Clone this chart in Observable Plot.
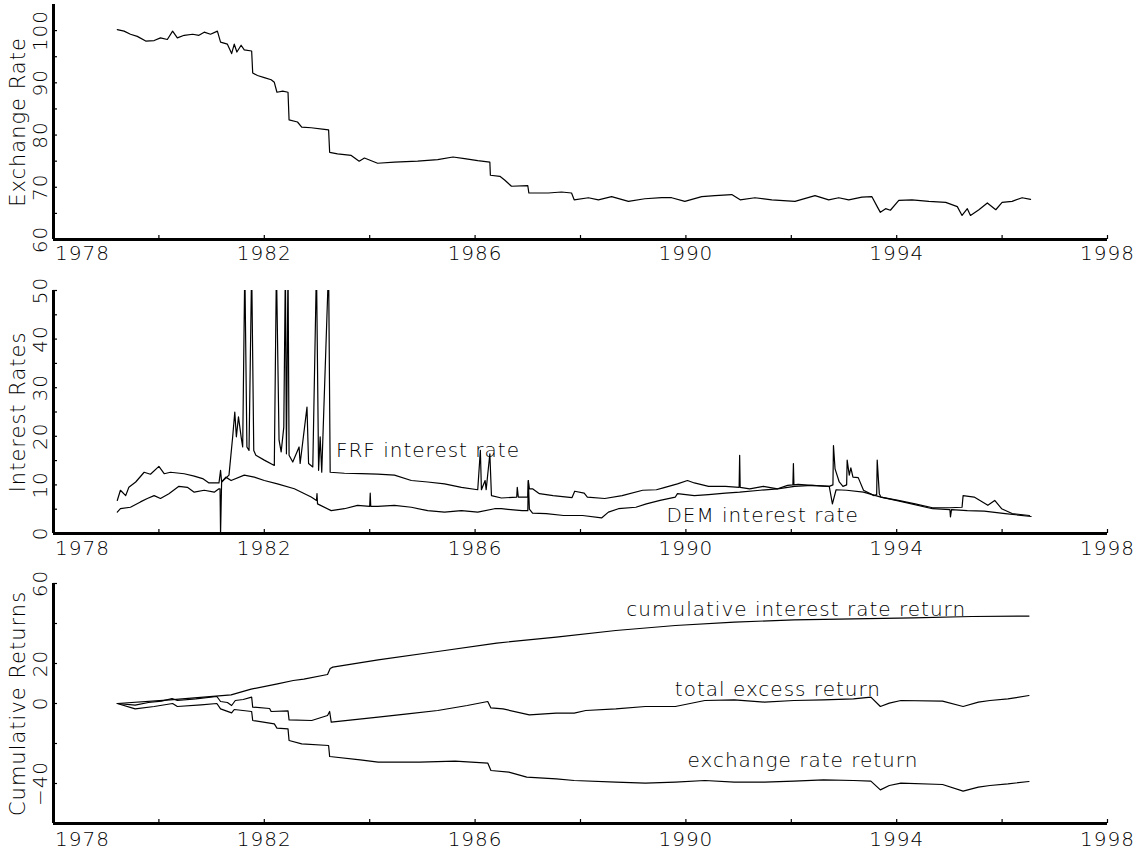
<!DOCTYPE html>
<html><head><meta charset="utf-8">
<script src="https://cdn.jsdelivr.net/npm/d3@7"></script>
<script src="https://cdn.jsdelivr.net/npm/@observablehq/plot@0.6"></script>
<style>
body{margin:0;background:#fff;}
#chart svg{display:block;overflow:visible;background:transparent;}
#chart text{font-family:"DejaVu Sans",sans-serif;font-weight:200;letter-spacing:1px;}
</style></head><body><div id="chart"></div>
<script>
// ---------- x axis ----------
const xTicks = [1978,1980,1982,1984,1986,1988,1990,1992,1994,1996,1998];
const xLabels = [1978,1982,1986,1990,1994,1998];

// ---------- panel 1: exchange rate ----------
const fxYear = [1979.21,1979.34,1979.46,1979.59,1979.75,1979.91,1980.03,1980.16,1980.26,1980.35,
1980.48,1980.64,1980.76,1980.86,1980.98,1981.11,1981.17,1981.30,1981.38,1981.43,
1981.48,1981.56,1981.62,1981.76,1981.78,1981.87,1982.00,1982.13,1982.19,1982.24,
1982.35,1982.45,1982.47,1982.63,1982.71,1982.89,1983.14,1983.22,1983.24,1983.39,
1983.65,1983.80,1983.90,1984.15,1984.47,1984.91,1985.29,1985.58,1985.80,1986.05,
1986.28,1986.29,1986.47,1986.56,1986.69,1987.00,1987.02,1987.39,1987.64,1987.83,
1987.88,1988.15,1988.34,1988.59,1988.91,1989.22,1989.54,1989.73,1989.98,1990.30,
1990.55,1990.87,1991.03,1991.31,1991.63,1992.07,1992.45,1992.71,1992.90,1993.09,
1993.34,1993.53,1993.63,1993.69,1993.79,1993.88,1994.04,1994.29,1994.61,1994.93,
1995.15,1995.24,1995.34,1995.40,1995.56,1995.72,1995.88,1996.00,1996.19,1996.38,1996.54];
const fxRate = [100.2,99.9,99.3,98.9,98.0,98.1,98.6,98.3,99.9,98.6,
99.1,99.3,99.1,99.7,99.3,99.9,97.8,97.4,95.6,97.4,
95.9,97.2,96.3,96.1,91.9,91.4,91.0,90.6,90.1,88.2,
88.4,88.2,82.9,82.5,81.5,81.4,81.1,81.0,76.7,76.4,
76.1,75.0,75.6,74.6,74.8,75.0,75.3,75.8,75.5,75.1,
74.8,72.3,72.1,71.4,70.2,70.3,68.9,68.9,69.1,68.9,
67.6,68.0,67.6,68.2,67.3,67.8,68.0,68.0,67.3,68.2,
68.4,68.6,67.6,68.0,67.6,67.3,68.4,67.6,68.0,67.6,
68.1,68.2,66.3,65.2,65.9,65.6,67.5,67.6,67.3,67.1,
66.3,64.6,65.9,64.6,65.7,67.0,65.7,67.1,67.3,68.0,67.7];
const fxTicks = [60,65,70,75,80,85,90,95,100];
const fxTickLabels = [60,70,80,90,100];

// ---------- panel 2: interest rates ----------
const frfYear = [1979.21,1979.27,1979.37,1979.43,1979.56,1979.72,1979.84,1980.00,1980.10,1980.22,
1980.48,1980.67,1980.83,1980.95,1981.14,1981.17,1981.19,1981.33,1981.40,1981.44,
1981.47,1981.51,1981.56,1981.59,1981.63,1981.67,1981.71,1981.76,1981.80,1981.84,
1982.00,1982.19,1982.23,1982.28,1982.32,1982.37,1982.40,1982.42,1982.45,1982.47,
1982.54,1982.66,1982.68,1982.81,1982.84,1982.92,1982.99,1983.03,1983.06,1983.09,
1983.22,1983.25,1983.52,1983.84,1984.15,1984.47,1984.79,1985.10,1985.42,1985.74,
1986.05,1986.10,1986.12,1986.19,1986.21,1986.28,1986.31,1986.50,1986.79,1986.80,
1986.82,1987.00,1987.01,1987.03,1987.09,1987.22,1987.48,1987.84,1987.89,1988.07,
1988.13,1988.46,1988.79,1989.18,1989.44,1989.57,1989.84,1990.03,1990.16,1990.43,
1990.75,1991.01,1991.02,1991.03,1991.21,1991.47,1991.74,1991.93,1992.03,1992.04,
1992.05,1992.13,1992.39,1992.72,1992.79,1992.80,1992.83,1992.91,1992.98,1993.05,
1993.06,1993.10,1993.13,1993.17,1993.27,1993.37,1993.57,1993.62,1993.63,1993.67,
1993.70,1994.03,1994.35,1994.68,1995.01,1995.24,1995.26,1995.47,1995.73,1995.86,
1995.99,1996.19,1996.52];
const frfRate = [6.8,8.9,7.8,9.5,10.6,12.6,12.2,13.8,12.3,12.6,
12.3,11.8,11.3,10.4,10.4,13.0,10.6,12.0,19.9,25.0,
19.9,24.0,19.9,17.8,55,17.8,17.1,55,17.1,16.1,
15.1,14.0,55,19.2,16.8,21.9,55,16.4,55,16.1,
14.7,17.8,14.4,26.0,14.4,13.7,55,13.0,19.9,12.6,
55,12.6,12.4,12.3,12.2,12.0,10.9,10.6,10.2,9.5,
9.0,17.1,9.0,10.9,9.0,16.4,7.8,7.3,7.5,9.5,
7.5,7.5,10.9,9.2,9.2,8.2,7.8,7.4,8.7,8.3,
7.5,7.2,7.8,8.9,9.0,9.4,10.2,10.9,10.4,9.7,
9.7,9.5,16.1,9.5,9.2,9.7,9.2,9.9,10.0,14.4,
10.0,10.1,9.9,9.7,10.0,18.1,13.3,10.6,9.7,10.0,
15.1,12.0,13.5,11.6,11.5,8.9,7.8,8.0,15.1,8.2,
7.5,6.8,6.1,5.3,5.3,5.4,7.8,7.5,5.8,6.8,
5.1,4.1,3.7];
const demYear = [1979.21,1979.27,1979.46,1979.65,1979.78,1979.91,1980.03,1980.19,1980.38,1980.54,
1980.67,1980.86,1981.05,1981.14,1981.16,1981.17,1981.19,1981.27,1981.37,1981.62,
1981.81,1982.00,1982.25,1982.57,1982.89,1982.99,1983.00,1983.01,1983.27,1983.52,
1983.77,1984.00,1984.01,1984.02,1984.15,1984.47,1984.79,1985.10,1985.42,1985.74,
1986.05,1986.37,1986.50,1986.89,1987.00,1987.01,1987.03,1987.09,1987.35,1987.68,
1988.04,1988.40,1988.53,1988.72,1989.05,1989.25,1989.51,1989.80,1989.84,1990.16,
1990.43,1990.75,1991.02,1991.41,1991.74,1992.06,1992.39,1992.72,1992.78,1992.85,
1993.05,1993.37,1993.70,1994.03,1994.68,1995.01,1995.02,1995.04,1995.34,1995.66,
1996.06,1996.55];
const demRate = [4.4,5.1,5.4,6.5,7.2,7.8,7.2,8.2,9.7,9.5,
8.5,8.9,8.5,9.2,9.2,0.0,10.6,11.6,10.9,12.0,
11.6,10.9,10.2,9.2,7.5,6.8,8.2,6.1,4.7,5.1,
5.8,5.6,8.3,5.6,5.6,5.8,5.4,4.7,4.4,4.7,
4.4,5.1,5.1,4.7,4.7,10.9,5.0,4.2,4.1,3.7,
3.7,3.2,4.4,5.1,5.4,6.1,6.8,7.5,8.2,7.8,
8.0,8.3,8.5,8.9,9.2,9.7,9.9,9.7,6.1,9.0,
8.9,8.5,7.5,6.7,5.1,4.9,3.4,4.9,4.7,4.6,
4.1,3.5];
const irTicks = [0,5,10,15,20,25,30,35,40,45,50];
const irTickLabels = [0,10,20,30,40,50];
const irLabelX = [1983.36,1989.63];
const irLabelY = [17.0,3.7];
const irLabelText = ["FRF interest rate","DEM interest rate"];

// ---------- panel 3: cumulative returns ----------
const cirYear = [1979.21,1980.21,1981.37,1981.75,1982.25,1982.55,1982.75,1983.20,1983.25,1983.30,
1984.16,1985.29,1986.41,1987.54,1988.67,1989.80,1990.92,1992.05,1993.18,1994.31,1995.43,1996.51];
const cirValue = [0,1.8,4.3,7.2,9.8,11.5,12.2,14.5,17.5,18.2,
21.8,26.0,30.2,33.2,36.5,39.0,40.7,41.8,42.3,42.8,43.5,43.7];
const terYear = [1979.21,1979.55,1979.80,1980.05,1980.25,1980.35,1980.70,1981.10,1981.17,1981.30,
1981.38,1981.45,1981.60,1981.76,1981.78,1982.10,1982.13,1982.45,1982.47,1982.90,
1983.20,1983.24,1983.27,1984.16,1984.72,1985.29,1985.85,1986.24,1986.30,1986.53,
1987.03,1987.54,1987.88,1988.10,1988.67,1989.23,1989.80,1990.36,1990.92,1991.49,
1992.05,1992.61,1993.18,1993.51,1993.69,1993.86,1994.08,1994.87,1995.26,1995.55,
1995.77,1996.11,1996.51];
const terValue = [0,-0.8,0.5,1.2,2.5,1.5,2.3,3.5,1.0,0.5,
-1.0,1.5,2.0,3.2,-1.8,-2.5,-4.0,-3.7,-8.2,-8.5,
-6.0,-4.0,-9.3,-6.8,-5.2,-3.5,-1.0,1.0,-2.2,-2.7,
-5.7,-4.8,-4.8,-3.5,-2.7,-1.5,-1.5,1.5,1.8,0.7,
1.5,1.8,2.3,3.2,-1.5,0.2,1.5,1.2,-1.5,0.7,
1.5,2.3,4.0];
const errYear = [1979.21,1979.55,1979.91,1980.26,1980.35,1980.80,1981.10,1981.17,1981.38,1981.43,
1981.76,1981.78,1982.19,1982.24,1982.45,1982.47,1982.71,1983.22,1983.24,1983.82,
1984.16,1984.95,1985.62,1986.24,1986.30,1986.64,1986.98,1987.54,1987.88,1988.67,
1989.23,1989.80,1990.36,1990.92,1991.49,1992.05,1992.61,1993.18,1993.51,1993.69,
1993.86,1994.08,1994.87,1995.26,1995.55,1995.77,1996.11,1996.51];
const errValue = [0,-2.7,-1.5,0,-1.5,-0.7,0,-2.7,-4.7,-3.0,
-4.0,-8.5,-10.2,-12.3,-12.7,-18.5,-20.2,-21.0,-26.5,-28.2,
-29.3,-29.3,-28.8,-29.8,-33.5,-34.3,-36.8,-37.7,-38.5,-39.3,
-39.8,-39.3,-38.5,-39.3,-39.3,-38.8,-38.2,-38.5,-38.8,-43.2,
-41.0,-39.8,-40.5,-43.8,-41.8,-41.0,-40.2,-39.0];
const crTicks = [-60,-40,-20,0,20,40,60];
const crTickLabels = [60,20,0,-40];
const crLabelX = [1988.87,1989.79,1990.03];
const crLabelY = [47.2,7.2,-28.3];
const crLabelText = ["cumulative interest rate return","total excess return","exchange rate return"];

// ---------- drawing ----------
const W = 1138, ML = 53, MR = 31;
const zip = (xs, ys) => xs.map((x, i) => ({x, y: ys[i]}));
const fmtY = d => d < 0 ? "\u2212" + Math.abs(d) : String(d);

function panel({height, mt, mb, yDomain, yTicks, yTickLabels, title, series, labels, xlDy}) {
  const innerH = height - mt - mb, innerW = W - ML - MR;
  const marks = [];
  for (const s of series) {
    marks.push(Plot.line(zip(s[0], s[1]), {x: "x", y: "y", stroke: "#000", strokeWidth: 1.2, clip: true}));
  }
  if (labels) {
    marks.push(Plot.text(labels[0].map((x, i) => ({x, y: labels[1][i], t: labels[2][i]})),
      {x: "x", y: "y", text: "t", textAnchor: "start", lineAnchor: "middle", fontSize: 20, fill: "#000"}));
  }
  marks.push(
    Plot.ruleX(xTicks, {x: d => d, insetTop: innerH - 4, stroke: "#000", strokeWidth: 1.2}),
    Plot.ruleY(yTicks, {y: d => d, insetRight: innerW - 4, stroke: "#000", strokeWidth: 1.2}),
    Plot.ruleX([xTicks[0]], {x: d => d, stroke: "#000", strokeWidth: 3}),
    Plot.ruleY([yDomain[0]], {y: d => d, stroke: "#000", strokeWidth: 3}),
    Plot.text([xLabels[0]], {x: d => d, text: d => String(d), frameAnchor: "bottom", dy: xlDy, dx: 29, lineAnchor: "middle", fontSize: 20, fill: "#000"}),
    Plot.text(xLabels.slice(1), {x: d => d, text: d => String(d), frameAnchor: "bottom", dy: xlDy, lineAnchor: "middle", fontSize: 20, fill: "#000"}),
    Plot.text(yTickLabels, {y: d => d, text: fmtY, frameAnchor: "left", rotate: -90, dx: -13, textAnchor: "middle", lineAnchor: "middle", fontSize: 20, fill: "#000"}),
    Plot.text([title], {text: d => d, frameAnchor: "left", rotate: -90, dx: -35, textAnchor: "middle", lineAnchor: "middle", fontSize: 21, fill: "#000"})
  );
  return Plot.plot({
    width: W, height, marginLeft: ML, marginRight: MR, marginTop: mt, marginBottom: mb,
    x: {domain: [1978, 1998], axis: null},
    y: {domain: yDomain, axis: null},
    style: {overflow: "visible", background: "transparent"},
    marks
  });
}

const root = document.getElementById("chart");
root.append(panel({height: 285, mt: 4, mb: 46, yDomain: [60, 105], yTicks: fxTicks, yTickLabels: fxTickLabels,
  title: "Exchange Rate", series: [[fxYear, fxRate]], xlDy: 14}));
root.append(panel({height: 290, mt: 5, mb: 42, yDomain: [0, 50], yTicks: irTicks, yTickLabels: irTickLabels,
  title: "Interest Rates", series: [[frfYear, frfRate], [demYear, demRate]], labels: [irLabelX, irLabelY, irLabelText], xlDy: 15}));
root.append(panel({height: 278, mt: 8, mb: 30, yDomain: [-60, 60], yTicks: crTicks, yTickLabels: crTickLabels,
  title: "Cumulative Returns", series: [[cirYear, cirValue], [terYear, terValue], [errYear, errValue]], labels: [crLabelX, crLabelY, crLabelText], xlDy: 16}));
</script></body></html>
